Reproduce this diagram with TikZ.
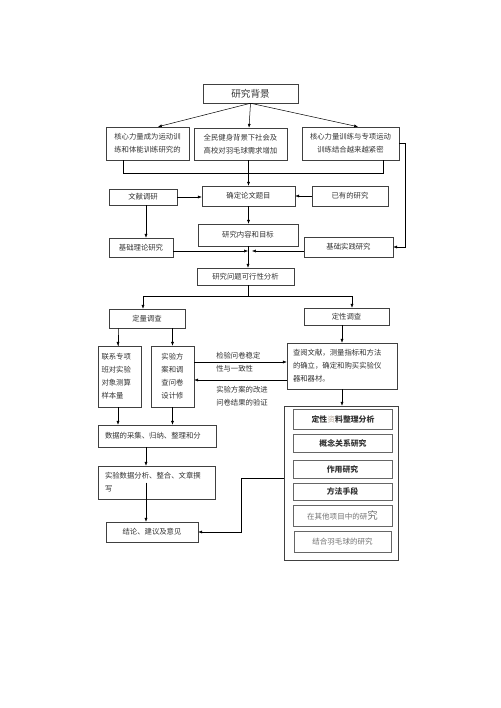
\documentclass[tikz,border=0pt]{standalone}
\usepackage{fontspec}
\newfontfamily\cjk{Noto Sans CJK SC}
\usetikzlibrary{positioning,calc,arrows.meta}

\begin{document}
\begin{tikzpicture}[x=0.42mm, y=-0.42mm,
      >={Latex[length=1.6mm, width=1.3mm]}, line width=0.6pt,
      nodes={font=\cjk\fontsize{8.8}{15.5}\selectfont, text=black!80},
      box/.style={draw=black!75, line width=0.6pt, inner sep=0pt, align=center},
      sz/.style 2 args={minimum width=#1*0.42mm, minimum height=#2*0.42mm},
      sub/.style={draw=black!60, line width=1pt, inner sep=0pt,
        minimum width=99*0.42mm, font=\cjk\fontsize{9.4}{12}\selectfont\bfseries},
      lbl/.style={inner sep=0pt, align=left, anchor=west}]
      \useasboundingbox (0,0) rectangle (500,708);
      % background and reasons
      \node[box, sz={95}{19}, font=\cjk\fontsize{11.5}{14}\selectfont] (bg) at (250.5,93.5) {研究背景};
      \node[box, sz={83}{33}] (ka) at (147.5,143.5) {核心力量成为运动训\\练和体能训练研究的};
      \node[box, sz={93}{32}] (kb) at (240.5,144) {全民健身背景下社会及\\高校对羽毛球需求增加};
      \node[box, sz={97}{33}] (kc) at (350.5,143.5) {核心力量训练与专项运动\\训练结合越来越紧密};
      \draw[->] (bg.south) -- ($(ka.north)+(10.5,0)$);
      \draw[->] (bg.south) -- ($(kb.north)+(8.5,0)$);
      \draw[->] (bg.south) -- ($(kc.north)+(7.5,0)$);
      \draw ($(ka.south)+(-24.5,0)$) -- ++(0,13) -| ($(kc.south)+(32.5,0)$);
      % topic
      \node[box, sz={93}{20}] (topic) at (248.5,196) {确定论文题目};
      \node[box, sz={68}{16}] (wx) at (143,197) {文献调研};
      \node[box, sz={76}{20}] (yy) at (350,196) {已有的研究};
      \draw[->] (kb.south -| topic.north) -- (topic.north);
      \draw[->] (wx.east) -- (wx.east -| topic.west);
      \draw[->] (yy.west) -- (topic.east);
      \node[box, sz={100}{22}] (nr) at (248,235) {研究内容和目标};
      \node[box, sz={64}{19}] (llyj) at (141,247.5) {基础理论研究};
      \node[box, sz={89}{20}] (sjyj) at (348.5,247) {基础实践研究};
      \draw[->] ($(wx.south)+(3,0)$) coordinate (w1) -- (w1 |- llyj.north);
      \draw[->] (topic.south) -- (topic.south |- nr.north);
      \draw[->] (kc.east) -- ++(6,0) |- (sjyj.east);
      \coordinate (m1) at (250,251);
      \draw[->] (llyj.east |- m1) -- ($(m1)+(-2,0)$);
      \draw[->] (sjyj.west |- m1) -- ($(m1)+(2,0)$);
      \node[box, sz={97}{17}] (kx) at (245.5,276.5) {研究问题可行性分析};
      \draw[->] (nr.south) -- (nr.south |- kx.north);
      % two surveys
      \node[box, sz={76}{19}] (dl) at (147,318.5) {定量调查};
      \node[box, sz={85}{17}] (dx) at (346.5,316.5) {定性调查};
      \coordinate (split) at (248,296);
      \draw (nr.south |- kx.south) -- (split);
      \draw[->] (split) -| ($(dl.north)+(-4,0)$);
      \draw[->] (split) -| ($(dx.north)+(5.5,0)$);
      \node[box, sz={43}{61}, text width=36*0.42mm, align=left] (lx) at (119.5,376.5) {联系专项\\班对实验\\对象测算\\样本量};
      \node[box, sz={43}{61}] (fa) at (172.5,376.5) {实验方\\案和调\\查问卷\\设计修};
      \node[box, sz={110}{46}, text width=98*0.42mm, align=left, inner xsep=6*0.42mm] (cy) at (342,366)
        {查阅文献，测量指标和方法\\的确立，确定和购买实验仪\\器和器材。};
      \draw[->] ($(lx.north)+(-1.5,0)$) coordinate (d1) -- (d1 |- dl.south) -- (d1 |- lx.north);
      \draw[->] (fa.north |- dl.south) -- (fa.north);
      \draw[->] (cy.north |- dx.south) -- (cy.north);
      \draw[->] ($(fa.east)+(0,-14.5)$) coordinate (a1) -- (a1 -| cy.west);
      \draw[->] ($(cy.west)+(0,14)$) coordinate (a2) -- (a2 -| fa.east);
      \node[lbl] (t1) at (216,362) {检验问卷稳定\\性与一致性};
      \node[lbl] (t2) at (216,396) {实验方案的改进\\问卷结果的验证};
      % left column
      \node[box, sz={118}{22}, text width=104*0.42mm, align=left] (sj) at (157,436) {数据的采集、归纳、整理和分};
      \node[box, sz={117}{33}, text width=103*0.42mm, align=left] (fx) at (156.5,482.5) {实验数据分析、整合、文章撰\\写};
      \node[box, sz={92}{20}] (jl) at (152,532) {结论、建议及意见};
      \draw[->] (d1 |- lx.south) -- (d1 |- sj.north);
      \draw[->] (fa.south) -- (fa.south |- sj.north);
      \draw[->] ($(sj.south)+(-11,0)$) coordinate (a3) -- (a3 |- fx.north);
      \draw[->] (a3 |- fx.center) -- (a3 |- jl.north);
      % qualitative part
      \node[draw=black!75, line width=0.6pt, inner sep=0pt, sz={114}{154}] (big) at (341,483) {};
      \draw[->] (cy.south) -- (cy.south |- big.north);
      \draw[->] ($(big.west)+(0,-5)$) -- ++(-43,0) |- (jl.east);
      \node[sub, minimum height=20*0.42mm] (q1) at (343,419)
        {定性{\mdseries\color{brown!50!black!45}资}料整理分析};
      \node[sub, minimum height=18*0.42mm] (q2) at (343,443) {概念关系研究};
      \node[sub, minimum height=18*0.42mm] (q3) at (342.5,469) {作用研究};
      \node[sub, minimum height=17*0.42mm] (q4) at (342.5,491.5) {方法手段};
      \node[sub, minimum height=21*0.42mm, text=black!55, font=\cjk\fontsize{9}{12}\selectfont] (q5) at (342.5,515.5)
        {在其他项目中的研{\fontsize{12.5}{12}\selectfont 究}};
      \node[sub, minimum height=21*0.42mm, minimum width=97*0.42mm, text=black!55,
        font=\cjk\fontsize{9}{12}\selectfont] (q6) at (342.5,541.5) {结合羽毛球的研究};
    \end{tikzpicture}
\end{document}
